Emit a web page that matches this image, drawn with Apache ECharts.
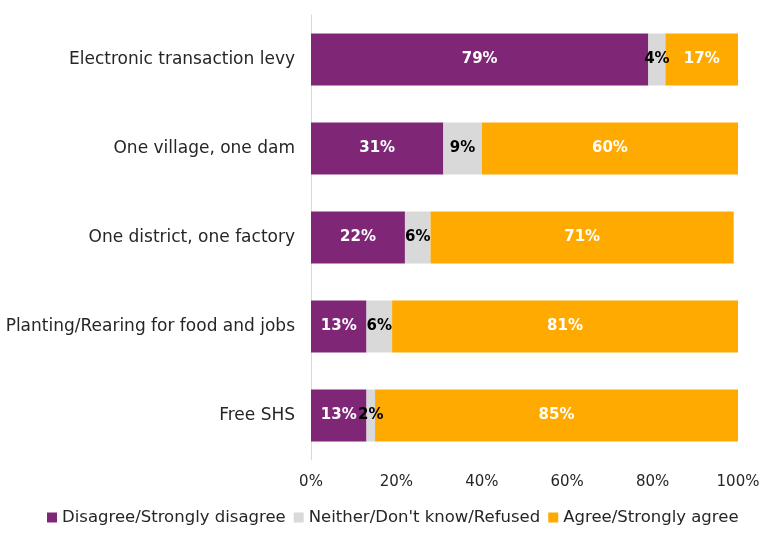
<!DOCTYPE html>
<html>
<head>
<meta charset="utf-8">
<script src="https://cdn.jsdelivr.net/npm/echarts@6/dist/echarts.min.js"></script>
<style>
  html, body { margin: 0; padding: 0; background: #fff; }
  #chart { width: 770px; height: 539px; }
</style>
</head>
<body>
<div id="chart"></div>
<script>
// categories, top to bottom
var categories = ['Electronic transaction levy', 'One village, one dam', 'One district, one factory', 'Planting/Rearing for food and jobs', 'Free SHS'];
var seriesNames = ['Disagree/Strongly disagree', 'Neither/Don\'t know/Refused', 'Agree/Strongly agree'];
var disagree = [79, 31, 22, 13, 13];
var neither = [4, 9, 6, 6, 2];
var agree = [17, 60, 71, 81, 85];
var tickLabels = ['0%', '20%', '40%', '60%', '80%', '100%'];

var colors = ['#7f2776', '#d9d9d9', '#ffaa00'];
var fontName = 'DejaVu Sans';

// y axis is bottom-up, so reverse
var cats = categories.slice().reverse();
var rev = function (a) { return a.slice().reverse(); };

var makeSeries = function (name, data, color, labelColor) {
    return {
        name: name,
        type: 'bar',
        stack: 'total',
        barWidth: 52,
        data: rev(data),
        itemStyle: { color: color },
        label: {
            show: true,
            position: 'inside',
            formatter: '{c}%',
            color: labelColor,
            fontFamily: fontName,
            fontWeight: 'bold',
            fontSize: 15
        }
    };
};

var chart = echarts.init(document.getElementById('chart'));
chart.setOption({
    animation: false,
    textStyle: { fontFamily: fontName },
    grid: { left: 311, right: 32, top: 15, bottom: 79 },
    legend: {
        bottom: 8,
        left: 42,
        itemWidth: 10,
        itemHeight: 10,
        itemGap: 8,
        icon: 'rect',
        textStyle: { fontSize: 16.5, color: '#262626', fontFamily: fontName },
        data: seriesNames
    },
    xAxis: {
        type: 'value',
        min: 0,
        max: 100,
        interval: 20,
        axisLine: { show: false },
        axisTick: { show: false },
        splitLine: { show: false },
        axisLabel: {
            fontSize: 15,
            color: '#262626',
            margin: 15,
            formatter: function (v) { return tickLabels[v / 20]; }
        }
    },
    yAxis: {
        type: 'category',
        data: cats,
        axisLine: { show: true, lineStyle: { color: '#d9d9d9', width: 1 } },
        axisTick: { show: false },
        axisLabel: { fontSize: 17, color: '#262626', margin: 16 }
    },
    series: [
        makeSeries(seriesNames[0], disagree, colors[0], '#fff'),
        makeSeries(seriesNames[1], neither, colors[1], '#000'),
        makeSeries(seriesNames[2], agree, colors[2], '#fff')
    ]
});
</script>
</body>
</html>
